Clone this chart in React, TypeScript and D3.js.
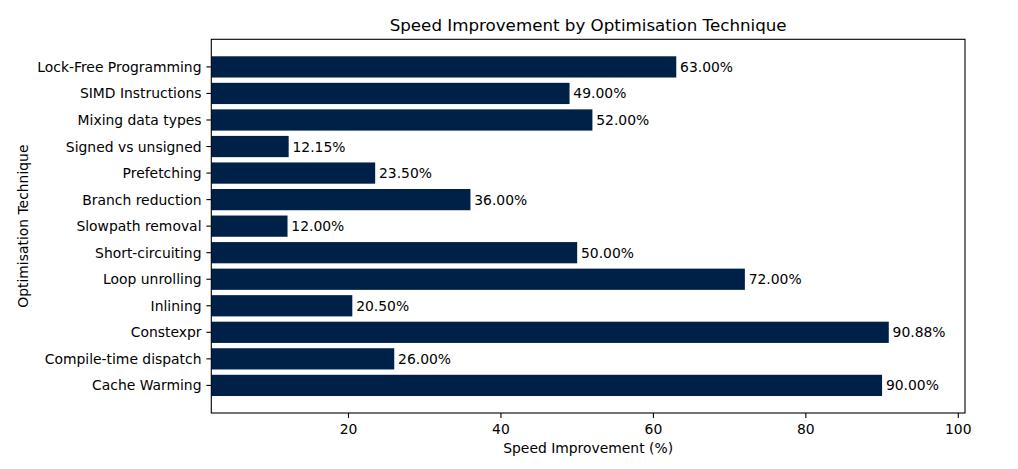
import { useRef, useEffect } from "react";
import * as d3 from "d3";

// bottom to top, as they appear on the chart
const techniques = [
  "Cache Warming",
  "Compile-time dispatch",
  "Constexpr",
  "Inlining",
  "Loop unrolling",
  "Short-circuiting",
  "Slowpath removal",
  "Branch reduction",
  "Prefetching",
  "Signed vs unsigned",
  "Mixing data types",
  "SIMD Instructions",
  "Lock-Free Programming",
];
const improvements = [90, 26, 90.88, 20.5, 72, 50, 12, 36, 23.5, 12.15, 52, 49, 63];
const xTicks = [20, 40, 60, 80, 100];

const width = 1018;
const height = 469;
const margin = { top: 39.3, right: 53, bottom: 56, left: 211.3 };
const barColor = "#002147";
const font = "'DejaVu Sans', sans-serif";

const App = () => {
  const ref = useRef<SVGSVGElement | null>(null);

  useEffect(() => {
    if (!ref.current) return;
    const svg = d3.select(ref.current);
    svg.selectAll("*").remove();

    const x0 = margin.left;
    const x1 = width - margin.right;
    const y0 = height - margin.bottom;
    const y1 = margin.top;

    const minV = d3.min(improvements) as number;
    const maxV = d3.max(improvements) as number;
    const x = d3.scaleLinear().domain([minV - 10, maxV + 10]).range([x0, x1]);

    const n = techniques.length;
    const pad = (n - 1 + 0.8) * 0.05;
    const y = d3
      .scaleLinear()
      .domain([-0.4 - pad, n - 1 + 0.4 + pad])
      .range([y0, y1]);
    const barH = y(0) - y(0.8);

    const data = techniques.map((name, i) => ({ name, value: improvements[i], i }));

    const plot = svg.append("g");
    plot
      .selectAll("rect")
      .data(data)
      .join("rect")
      .attr("x", x0)
      .attr("y", (d) => y(d.i + 0.4))
      .attr("width", (d) => x(d.value) - x0)
      .attr("height", barH)
      .attr("fill", barColor);

    // value labels
    plot
      .selectAll("text")
      .data(data)
      .join("text")
      .attr("x", (d) => x(d.value + 0.5))
      .attr("y", (d) => y(d.i))
      .attr("dy", "0.36em")
      .text((d) => `${d.value.toFixed(2)}%`)
      .style("font-family", font)
      .style("font-size", "13.9px")
      .style("fill", "#000");

    // spines
    svg
      .append("rect")
      .attr("x", x0)
      .attr("y", y1)
      .attr("width", x1 - x0)
      .attr("height", y0 - y1)
      .attr("fill", "none")
      .attr("stroke", "#000")
      .attr("stroke-width", 1.1);

    // x axis
    const xAxis = svg.append("g");
    xTicks.forEach((t) => {
      xAxis
        .append("line")
        .attr("x1", x(t))
        .attr("x2", x(t))
        .attr("y1", y0)
        .attr("y2", y0 + 4.9)
        .attr("stroke", "#000")
        .attr("stroke-width", 1.1);
      xAxis
        .append("text")
        .attr("x", x(t))
        .attr("y", 433.5)
        .attr("text-anchor", "middle")
        .text(t)
        .style("font-family", font)
        .style("font-size", "13.9px");
    });

    // y axis
    const yAxis = svg.append("g");
    data.forEach((d) => {
      yAxis
        .append("line")
        .attr("x1", x0 - 4.9)
        .attr("x2", x0)
        .attr("y1", y(d.i))
        .attr("y2", y(d.i))
        .attr("stroke", "#000")
        .attr("stroke-width", 1.1);
      yAxis
        .append("text")
        .attr("x", x0 - 9.8)
        .attr("y", y(d.i))
        .attr("dy", "0.36em")
        .attr("text-anchor", "end")
        .text(d.name)
        .style("font-family", font)
        .style("font-size", "13.9px");
    });

    // titles
    svg
      .append("text")
      .attr("x", (x0 + x1) / 2)
      .attr("y", 30.5)
      .attr("text-anchor", "middle")
      .text("Speed Improvement by Optimisation Technique")
      .style("font-family", font)
      .style("font-size", "16.7px");

    svg
      .append("text")
      .attr("x", (x0 + x1) / 2)
      .attr("y", 453)
      .attr("text-anchor", "middle")
      .text("Speed Improvement (%)")
      .style("font-family", font)
      .style("font-size", "13.9px");

    svg
      .append("text")
      .attr("transform", `translate(27.5,${(y0 + y1) / 2}) rotate(-90)`)
      .attr("text-anchor", "middle")
      .text("Optimisation Technique")
      .style("font-family", font)
      .style("font-size", "13.9px");
  }, []);

  return (
    <svg
      ref={ref}
      width={width}
      height={height}
      style={{ position: "absolute", left: 0, top: 0, background: "#fff" }}
    />
  );
};

export default App;
